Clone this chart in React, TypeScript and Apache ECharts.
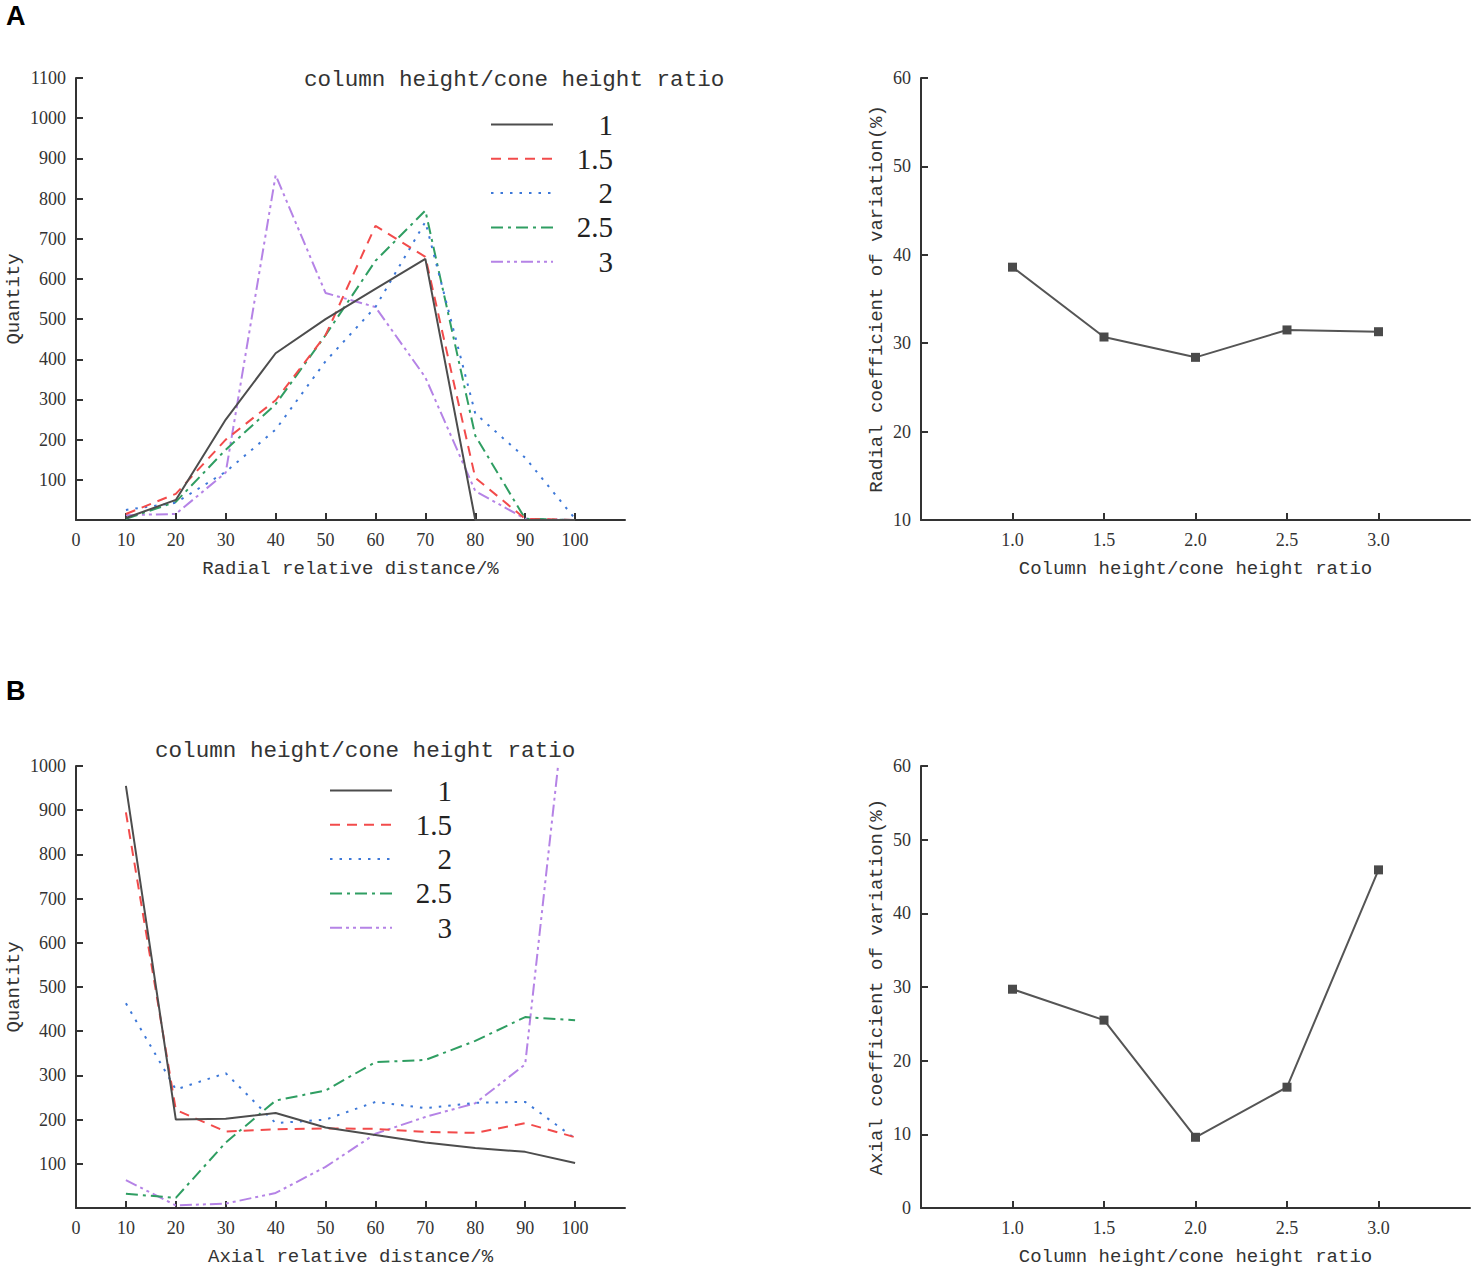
import React, { useEffect, useRef } from "react";
import * as echarts from "echarts";

const distances = [10, 20, 30, 40, 50, 60, 70, 80, 90, 100];
const seriesNames = ["1", "1.5", "2", "2.5", "3"];

const radial1 = [5, 50, 250, 415, 500, 575, 650, 0, 0, 0];
const radial15 = [15, 65, 200, 298, 460, 732, 655, 105, 3, 0];
const radial2 = [25, 43, 120, 225, 395, 530, 742, 265, 155, 3];
const radial25 = [3, 45, 175, 288, 460, 645, 770, 210, 3, 0];
const radial3 = [12, 15, 118, 858, 565, 530, 355, 72, 3, 0];

const axial1 = [955, 200, 202, 215, 182, 165, 148, 136, 127, 102];
const axial15 = [895, 222, 173, 178, 180, 179, 172, 170, 192, 160];
const axial2 = [463, 268, 305, 192, 200, 240, 226, 238, 240, 157];
const axial25 = [32, 23, 148, 243, 266, 330, 335, 378, 432, 425];
const axial3 = [63, 6, 10, 34, 93, 168, 206, 237, 325, 1350];

const ratios = [1.0, 1.5, 2.0, 2.5, 3.0];
const radialCV = [38.6, 30.7, 28.4, 31.5, 31.3];
const axialCV = [29.7, 25.5, 9.6, 16.4, 45.9];

const xTickLabels = [0, 10, 20, 30, 40, 50, 60, 70, 80, 90, 100];
const radialYTicks = [100, 200, 300, 400, 500, 600, 700, 800, 900, 1000, 1100];
const axialYTicks = [100, 200, 300, 400, 500, 600, 700, 800, 900, 1000];

const lineColors = ["#4d4d4d", "#f24b4b", "#3d78d8", "#2f9e62", "#b583e6"];
const lineDashes: any[] = ["solid", [10, 7], [2.5, 7], [12, 5, 3, 5], [12, 4, 3, 4, 3, 4]];

const MONO = "Liberation Mono";
const SERIF = "Liberation Serif";
const AX = "#333333";

function App() {
  const ref = useRef<HTMLDivElement>(null);
  useEffect(() => {
    document.body.style.margin = "0";
    if (!ref.current) return;
    const chart = echarts.init(ref.current, null, { renderer: "svg" });

    const grids = [
      { left: 76, top: 78, width: 549, height: 442 },
      { left: 921, top: 78, width: 549, height: 442 },
      { left: 76, top: 766, width: 549, height: 442 },
      { left: 921, top: 766, width: 549, height: 442 },
    ].map((g) => ({ ...g, containLabel: false, outerBoundsMode: "none" }));

    const axisCommon = {
      axisLine: { show: true, onZero: false, lineStyle: { color: AX, width: 2 } },
      axisTick: { show: true, inside: true, length: 7, lineStyle: { color: AX, width: 2 } },
      splitLine: { show: false },
      nameTextStyle: { fontFamily: MONO, fontSize: 19, color: AX },
      nameLocation: "middle",
    };
    const plain = (v: number) => String(v);
    const xLabel = { fontFamily: SERIF, fontSize: 18, color: AX, margin: 11, formatter: plain };
    const yLabel = { fontFamily: SERIF, fontSize: 18, color: AX, margin: 10, formatter: plain };

    const distX = (gridIndex: number, name: string) => ({
      ...axisCommon,
      type: "value",
      gridIndex,
      min: 0,
      max: 110,
      interval: 10,
      name,
      nameGap: 39,
      axisLabel: { ...xLabel, customValues: xTickLabels },
      axisTick: { ...axisCommon.axisTick, customValues: xTickLabels.slice(1) },
    });
    const ratioX = (gridIndex: number) => ({
      ...axisCommon,
      type: "value",
      gridIndex,
      min: 0.5,
      max: 3.5,
      interval: 0.5,
      name: "Column height/cone height ratio",
      nameGap: 39,
      axisLabel: { ...xLabel, customValues: ratios, formatter: (v: number) => v.toFixed(1) },
      axisTick: { ...axisCommon.axisTick, customValues: ratios },
    });

    const xAxis = [distX(0, "Radial relative distance/%"), ratioX(1), distX(2, "Axial relative distance/%"), ratioX(3)];
    const yAxis = [
      {
        ...axisCommon,
        type: "value",
        gridIndex: 0,
        min: 0,
        max: 1100,
        interval: 100,
        name: "Quantity",
        nameGap: 53,
        axisLabel: { ...yLabel, customValues: radialYTicks },
        axisTick: { ...axisCommon.axisTick, customValues: radialYTicks },
      },
      {
        ...axisCommon,
        type: "value",
        gridIndex: 1,
        min: 10,
        max: 60,
        interval: 10,
        name: "Radial coefficient of variation(%)",
        nameGap: 35,
        axisLabel: { ...yLabel },
      },
      {
        ...axisCommon,
        type: "value",
        gridIndex: 2,
        min: 0,
        max: 1000,
        interval: 100,
        name: "Quantity",
        nameGap: 53,
        axisLabel: { ...yLabel, customValues: axialYTicks },
        axisTick: { ...axisCommon.axisTick, customValues: axialYTicks },
      },
      {
        ...axisCommon,
        type: "value",
        gridIndex: 3,
        min: 0,
        max: 60,
        interval: 10,
        name: "Axial coefficient of variation(%)",
        nameGap: 35,
        axisLabel: { ...yLabel },
      },
    ];

    const radialData = [radial1, radial15, radial2, radial25, radial3];
    const axialData = [axial1, axial15, axial2, axial25, axial3];

    const distSeries = (idx: number, data: number[][]) =>
      data.map((vals, i) => ({
        type: "line",
        name: seriesNames[i],
        xAxisIndex: idx,
        yAxisIndex: idx,
        data: distances.map((d, j) => [d, vals[j]]),
        symbol: "none",
        showSymbol: false,
        clip: true,
        lineStyle: { color: lineColors[i], width: 2, type: lineDashes[i] },
        itemStyle: { color: lineColors[i] },
        z: 10 - i,
      }));

    const cvSeries = (idx: number, name: string, vals: number[]) => ({
      type: "line",
      name,
      xAxisIndex: idx,
      yAxisIndex: idx,
      data: ratios.map((r, j) => [r, vals[j]]),
      symbol: "rect",
      symbolSize: 9,
      lineStyle: { color: "#555555", width: 2 },
      itemStyle: { color: "#4a4a4a" },
    });

    const legendCommon = {
      orient: "vertical",
      itemWidth: 62,
      itemHeight: 14,
      itemGap: 5.3,
      padding: 0,
      selectedMode: false,
      data: seriesNames,
      itemStyle: { opacity: 0 },
      formatter: (name: string) => `{n|${name}}`,
      textStyle: {
        rich: {
          n: { width: 55, align: "right", fontFamily: SERIF, fontSize: 29, lineHeight: 28, color: "#222" },
        },
      },
    };

    const titleStyle = { fontFamily: MONO, fontSize: 22.6, fontWeight: "normal", color: "#333", lineHeight: 26 };

    chart.setOption({
      animation: false,
      backgroundColor: "#ffffff",
      grid: grids,
      xAxis,
      yAxis,
      title: [
        { text: "A", left: 6, top: 2, padding: 0, textStyle: { fontFamily: "Liberation Sans", fontWeight: "bold", fontSize: 27, color: "#000" } },
        { text: "B", left: 6, top: 677, padding: 0, textStyle: { fontFamily: "Liberation Sans", fontWeight: "bold", fontSize: 27, color: "#000" } },
        { text: "column height/cone height ratio", left: 304, top: 67, padding: 0, textStyle: titleStyle },
        { text: "column height/cone height ratio", left: 155, top: 738, padding: 0, textStyle: titleStyle },
      ],
      legend: [
        { ...legendCommon, left: 490, top: 110 },
        { ...legendCommon, left: 329, top: 776 },
      ],
      series: [
        ...distSeries(0, radialData),
        cvSeries(1, "radialCV", radialCV),
        ...distSeries(2, axialData),
        cvSeries(3, "axialCV", axialCV),
      ],
    });
    return () => chart.dispose();
  }, []);
  return <div ref={ref} style={{ width: 1476, height: 1272, overflow: "hidden" }} />;
}

export default App;
